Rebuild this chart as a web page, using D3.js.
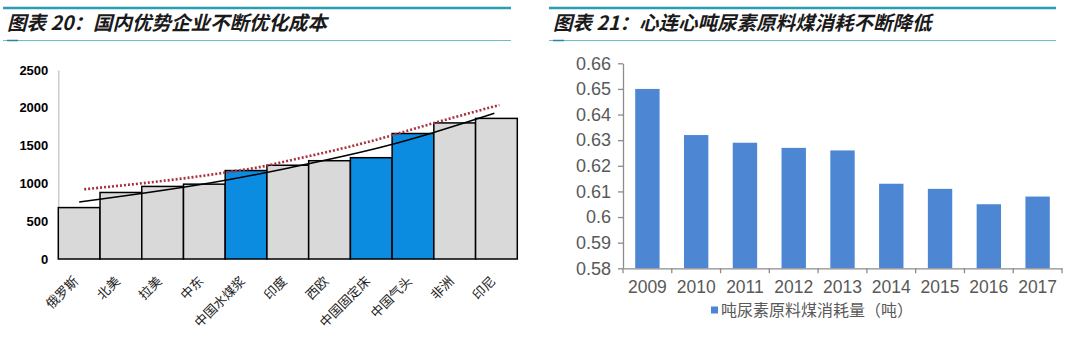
<!DOCTYPE html>
<html><head><meta charset="utf-8">
<script src="https://cdn.jsdelivr.net/npm/d3@7"></script>
<style>
html,body{margin:0;padding:0;background:#fff;}
svg{display:block;}
</style></head>
<body>
<svg id="c" width="1080" height="349"></svg>
<script>
// ---- Left chart data ----
const regions = ["俄罗斯","北美","拉美","中东","中国水煤浆","印度","西欧","中国固定床","中国气头","非洲","印尼"];
const regionCost = [680,880,960,990,1170,1240,1300,1340,1660,1800,1860];
const highlighted = ["中国水煤浆","中国固定床","中国气头"];
const leftTicks = [0,500,1000,1500,2000,2500];
// trend lines (category index, value)
const blackTrendIdx = [0, 3.54, 5.05, 7.44, 8.48, 9.95];
const blackTrendVal = [754, 1045, 1208, 1508, 1671, 1927];
const redTrendIdx = [0.12, 3.54, 4.49, 4.81, 7.04, 8.48, 10.07];
const redTrendVal = [922, 1147, 1234, 1274, 1565, 1795, 2037];

// ---- Right chart data ----
const years = ["2009","2010","2011","2012","2013","2014","2015","2016","2017"];
const coalPerTon = [0.650,0.632,0.629,0.627,0.626,0.613,0.611,0.605,0.608];
const rightTicks = [0.58,0.59,0.60,0.61,0.62,0.63,0.64,0.65,0.66];
const rightTickLabels = ["0.58","0.59","0.6","0.61","0.62","0.63","0.64","0.65","0.66"];
const legendLabel = "吨尿素原料煤消耗量（吨）";

const titleLeft = "图表 20：国内优势企业不断优化成本";
const titleRight = "图表 21：心连心吨尿素原料煤消耗不断降低";

const svg = d3.select("#c");
const CJK = "'Noto Sans CJK SC','Noto Sans',sans-serif";

// ---- Title banners ----
function banner(x0, x1, text) {
  svg.append("line").attr("x1", x0).attr("x2", x1).attr("y1", 8).attr("y2", 8)
    .attr("stroke", "#2a9db3").attr("stroke-width", 2.5);
  svg.append("line").attr("x1", x0).attr("x2", x1).attr("y1", 40.5).attr("y2", 40.5)
    .attr("stroke", "#6fbccb").attr("stroke-width", 1);
  svg.append("line").attr("x1", x0 + 4).attr("x2", x0 + 15).attr("y1", 40.5).attr("y2", 40.5)
    .attr("stroke", "#2a7fb3").attr("stroke-width", 1.5);
  svg.append("text").attr("x", x0 + 4).attr("y", 30)
    .attr("font-family", CJK).attr("font-size", 19.5).attr("font-weight", "bold")
    .attr("font-style", "italic").attr("fill", "#1a1a1a").text(text);
}
banner(3, 511, titleLeft);
banner(549, 1056, titleRight);

// ---- Left chart ----
const L = {x0: 58.3, x1: 517.3, yTop: 70, yBot: 259};
const xL = d3.scaleBand().domain(regions).range([L.x0, L.x1]).padding(0);
const yL = d3.scaleLinear().domain([0, 2500]).range([L.yBot, L.yTop]);
const xIdx = d3.scaleLinear().domain([-0.5, regions.length - 0.5]).range([L.x0, L.x1]);

const gL = svg.append("g");
gL.append("g").attr("transform", `translate(${L.x0},0)`)
  .call(d3.axisLeft(yL).tickValues(leftTicks).tickSize(0).tickPadding(10).tickFormat(d3.format("d")))
  .call(g => {
    g.select(".domain").attr("stroke", "#bfbfbf").attr("stroke-width", 1.2);
    g.selectAll("text").attr("font-family", "Arial, 'Liberation Sans', sans-serif")
      .attr("font-size", 13).attr("font-weight", "bold").attr("fill", "#000");
  });

gL.selectAll("rect.bar").data(regions).join("rect")
  .attr("x", d => xL(d)).attr("width", xL.bandwidth())
  .attr("y", (d, i) => yL(regionCost[i]))
  .attr("height", (d, i) => yL(0) - yL(regionCost[i]))
  .attr("fill", d => highlighted.includes(d) ? "#0b8ce0" : "#d9d9d9")
  .attr("stroke", "#000").attr("stroke-width", 1.5);

const lineL = d3.line().x(d => xIdx(d[0])).y(d => yL(d[1])).curve(d3.curveMonotoneX);
gL.append("path").datum(blackTrendIdx.map((v, i) => [v, blackTrendVal[i]]))
  .attr("d", lineL).attr("fill", "none").attr("stroke", "#000").attr("stroke-width", 1.5);
gL.append("path").datum(redTrendIdx.map((v, i) => [v, redTrendVal[i]]))
  .attr("d", lineL).attr("fill", "none").attr("stroke", "#a8323c").attr("stroke-width", 2.6)
  .attr("stroke-dasharray", "2,2");

gL.selectAll("text.xl").data(regions).join("text")
  .attr("class", "xl")
  .attr("transform", d => `translate(${xL(d) + xL.bandwidth() / 2},${L.yBot + 23}) rotate(-45)`)
  .attr("text-anchor", "end")
  .attr("font-family", CJK).attr("font-size", 13).attr("fill", "#222")
  .text(d => d);

// ---- Right chart ----
const R = {x0: 623, x1: 1062, yTop: 63.3, yBot: 268.3};
const xR = d3.scaleBand().domain(years).range([R.x0, R.x1]).paddingInner(0.5).paddingOuter(0.25);
const yR = d3.scaleLinear().domain([0.58, 0.66]).range([R.yBot, R.yTop]);
const grey = "#595959";
const gR = svg.append("g");

gR.selectAll("rect.bar").data(years).join("rect")
  .attr("x", d => xR(d)).attr("width", xR.bandwidth())
  .attr("y", (d, i) => yR(coalPerTon[i]))
  .attr("height", (d, i) => yR(0.58) - yR(coalPerTon[i]))
  .attr("fill", "#4d87d3");

gR.append("g").attr("transform", `translate(${R.x0},0)`)
  .call(d3.axisLeft(yR).tickValues(rightTicks).tickSize(5).tickSizeOuter(0).tickPadding(7)
    .tickFormat((d, i) => rightTickLabels[i]))
  .call(g => {
    g.select(".domain").attr("stroke", "#8c8c8c").attr("stroke-width", 1.3);
    g.selectAll("line").attr("stroke", "#8c8c8c").attr("stroke-width", 1.3);
    g.selectAll("text").attr("font-family", "Arial, 'Liberation Sans', sans-serif")
      .attr("font-size", 18).attr("fill", grey);
  });

const step = xR.step();
gR.append("g").attr("transform", `translate(0,${R.yBot})`)
  .call(d3.axisBottom(xR).tickSize(0).tickPadding(12))
  .call(g => {
    g.select(".domain").attr("stroke", "#8c8c8c").attr("stroke-width", 1.3);
    g.selectAll("text").attr("font-family", "Arial, 'Liberation Sans', sans-serif")
      .attr("font-size", 17.5).attr("fill", grey);
  });
const bounds = [R.x0].concat(years.map(d => xR(d) + xR.bandwidth() / 2 + step / 2));
gR.selectAll("line.bt").data(bounds).join("line")
  .attr("x1", d => d).attr("x2", d => d).attr("y1", R.yBot).attr("y2", R.yBot + 5)
  .attr("stroke", "#8c8c8c").attr("stroke-width", 1.3);

// legend
const lg = gR.append("g").attr("transform", "translate(711,310)");
lg.append("rect").attr("x", 0).attr("y", -3.5).attr("width", 7).attr("height", 7).attr("fill", "#4d87d3");
lg.append("text").attr("x", 10).attr("y", 0).attr("dy", "0.35em")
  .attr("font-family", CJK).attr("font-size", 16).attr("fill", grey).text(legendLabel);
</script>
</body></html>
